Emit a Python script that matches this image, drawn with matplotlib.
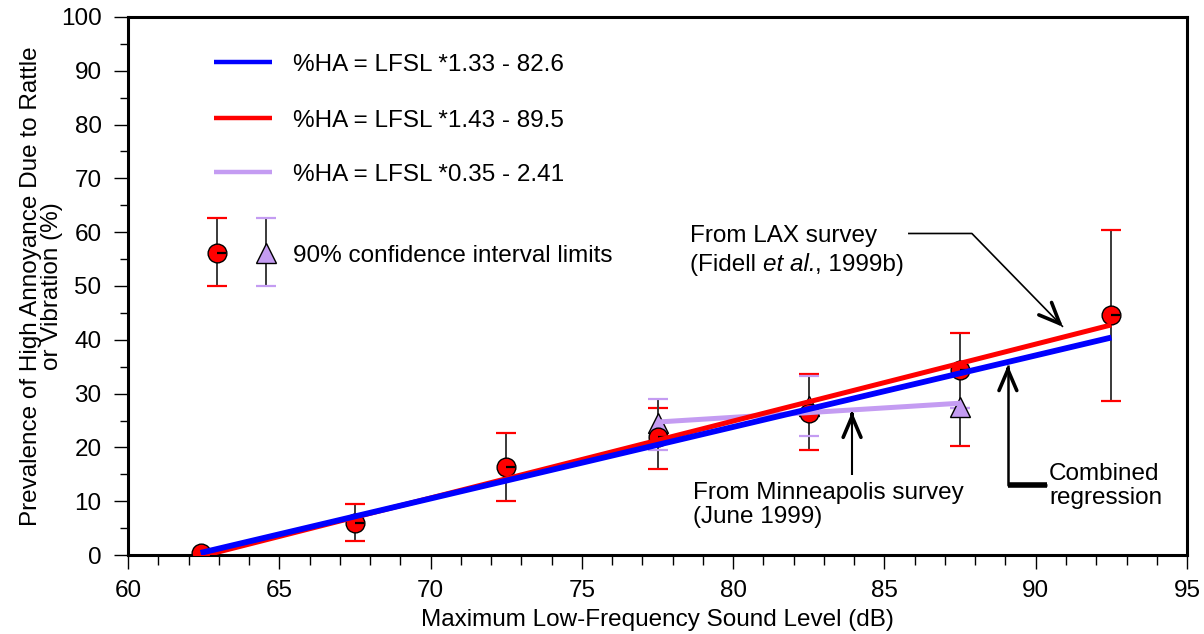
import matplotlib
matplotlib.use("Agg")
import matplotlib.pyplot as plt
import numpy as np
from matplotlib.path import Path
from matplotlib.ticker import MultipleLocator

plt.rcParams["font.family"] = ["Liberation Sans", "DejaVu Sans"]

# combined survey points (red circles) with 90% confidence limits
lfsl = [62.4, 67.5, 72.5, 77.5, 82.5, 87.5, 92.5]
ha = [0.3, 6.0, 16.4, 22.0, 26.4, 34.4, 44.7]
ha_hi = [np.nan, 9.5, 22.7, 27.3, 33.6, 41.2, 60.5]
ha_lo = [np.nan, 2.6, 10.0, 16.0, 19.5, 20.3, 28.6]

# Minneapolis survey points (triangles)
mn_lfsl = [77.5, 82.5, 87.5]
mn_ha = [24.5, 27.7, 27.5]
mn_hi = [29.0, 33.2, 27.4]
mn_lo = [19.5, 22.1, 27.4]

# regression fits: (slope, intercept, x range)
fits = {
    "blue": (1.33, -82.6, (62.4, 92.5)),
    "red": (1.43, -89.5, (62.4, 92.5)),
    "minn": (0.35, -2.41, (77.5, 87.5)),
}
fit_labels = ["%HA = LFSL *1.33 - 82.6", "%HA = LFSL *1.43 - 89.5",
              "%HA = LFSL *0.35 - 2.41"]

BLUE = "#0000ff"
RED = "#ff0000"
LAV = "#c49cf2"
BAR = "#3a3a3a"
FS = 17.5

# little tick from the centre of each circle to its right edge
tick_marker = Path([(0, 0), (1, 0)], [Path.MOVETO, Path.LINETO])

fig = plt.figure(figsize=(12.04, 6.34), dpi=100)
ax = fig.add_axes([0.1063, 0.1246, 0.8796, 0.8486])


def fit_line(key):
    m, b, (x0, x1) = fits[key]
    xs = np.array([x0, x1])
    return xs, m * xs + b


def ci(ax, x, lo, hi, cap_color):
    x, lo, hi = (np.asarray(v, float) for v in (x, lo, hi))
    ok = ~np.isnan(lo)
    ax.vlines(x[ok], lo[ok], hi[ok], color=BAR, lw=1.4, zorder=2)
    for v in (lo, hi):
        ax.plot(x[ok], v[ok], ls="none", marker="_", ms=15, mew=1.6,
                color=cap_color, zorder=2)


def arrow(ax, pts, lw=1.2, head_lw=2.6, tail_lw=None, scale=20):
    pts = np.asarray(pts, float)
    ax.plot(pts[:, 0], pts[:, 1], color="black", lw=lw,
            solid_capstyle="butt", zorder=6, clip_on=False)
    if tail_lw:
        ax.plot(pts[:2, 0], pts[:2, 1], color="black", lw=tail_lw,
                solid_capstyle="butt", zorder=6, clip_on=False)
    a, b = pts[-2], pts[-1]
    ax.annotate("", xy=b, xytext=b - (b - a) * 0.05,
                arrowprops=dict(arrowstyle="->,head_length=0.75,head_width=0.32",
                                lw=head_lw, color="black", shrinkA=0, shrinkB=0,
                                mutation_scale=scale),
                zorder=6)


# confidence intervals
ci(ax, lfsl, ha_lo, ha_hi, RED)
ci(ax, mn_lfsl, mn_lo, mn_hi, LAV)

# markers
ax.plot(mn_lfsl, mn_ha, ls="none", marker="^", ms=15, mfc=LAV, mec="black",
        mew=1.0, zorder=3)
ax.plot(lfsl, ha, ls="none", marker="o", ms=13.5, mfc=RED, mec="black",
        mew=1.0, zorder=3)
ax.plot(lfsl, ha, ls="none", marker=tick_marker, ms=13.5, mec="black",
        mew=1.6, zorder=3)

# regression lines
xs, ys = fit_line("minn")
ax.plot(xs, ys, color=LAV, lw=3.6, solid_capstyle="butt", zorder=4)
xs, ys = fit_line("red")
ax.plot(xs, ys, color=RED, lw=3.6, solid_capstyle="butt", zorder=5)
xs, ys = fit_line("blue")
ax.plot(xs, ys, color=BLUE, lw=4.2, solid_capstyle="butt", zorder=5)

# axes
ax.set_xlim(60, 95)
ax.set_ylim(0, 100)
ax.xaxis.set_major_locator(MultipleLocator(5))
ax.xaxis.set_minor_locator(MultipleLocator(1))
ax.yaxis.set_major_locator(MultipleLocator(10))
ax.yaxis.set_minor_locator(MultipleLocator(5))
for s in ax.spines.values():
    s.set_linewidth(2.2)
ax.tick_params(which="both", direction="out", top=False, right=False,
               width=1.0, labelsize=FS)
ax.tick_params(axis="x", which="major", length=10, pad=8)
ax.tick_params(axis="x", which="minor", length=7)
ax.tick_params(axis="y", which="major", length=10, pad=9)
ax.tick_params(axis="y", which="minor", length=6)

ax.set_xlabel("Maximum Low-Frequency Sound Level (dB)", fontsize=FS,
              va="center")
ax.xaxis.set_label_coords(0.5, -0.12)
ax.set_ylabel("Prevalence of High Annoyance Due to Rattle\nor Vibration (%)",
              fontsize=FS, linespacing=0.95, va="center")
ax.yaxis.set_label_coords(-0.0815, 0.5)

# legend drawn in axes coordinates
tr = ax.transAxes
for (y, c, lw), lab in zip([(0.9164, BLUE, 3.2), (0.8123, RED, 3.2),
                            (0.7119, LAV, 3.2)], fit_labels):
    ax.plot([0.0812, 0.136], [y, y], color=c, lw=lw, transform=tr,
            solid_capstyle="butt")
    ax.text(0.1558, y - 0.006, lab, transform=tr, fontsize=FS, va="center")

ax.plot([0.084, 0.084], [0.5, 0.6264], color=BAR, lw=1.4, transform=tr)
ax.plot([0.1303, 0.1303], [0.5, 0.6264], color=BAR, lw=1.4, transform=tr)
for y in (0.5, 0.6264):
    ax.plot([0.084], [y], marker="_", ms=15, mew=1.6, color=RED, transform=tr)
    ax.plot([0.1303], [y], marker="_", ms=15, mew=1.6, color=LAV, transform=tr)
ax.plot([0.084], [0.5613], marker="o", ms=13.5, mfc=RED, mec="black", mew=1.0,
        transform=tr)
ax.plot([0.084], [0.5613], marker=tick_marker, ms=13.5, mec="black", mew=1.6,
        transform=tr)
ax.plot([0.1303], [0.5613], marker="^", ms=15, mfc=LAV, mec="black", mew=1.0,
        transform=tr)
ax.text(0.1558, 0.5558, "90% confidence interval limits", transform=tr,
        fontsize=FS, va="center")

# annotations
ax.text(78.57, 59.3, "From LAX survey", fontsize=FS, va="center")
piece = ax.text(78.57, 53.9, "(Fidell ", fontsize=FS, va="center")
for txt, style in [("et al.", "italic"), (", 1999b)", "normal")]:
    piece = ax.annotate(txt, xy=(1, 0), xycoords=piece, va="bottom",
                        fontsize=FS, style=style)
arrow(ax, [(85.78, 59.76), (87.89, 59.76), (90.9, 42.4)], lw=1.2)

ax.text(78.67, 9.3, "From Minneapolis survey\n(June 1999)", fontsize=FS,
        va="center", linespacing=1.15)
arrow(ax, [(83.93, 14.9), (83.93, 26.6)], lw=1.5)

ax.text(90.44, 12.8, "Combined\nregression", fontsize=FS, va="center",
        linespacing=1.1)
arrow(ax, [(90.37, 13.0), (89.08, 13.0), (89.08, 35.3)], lw=1.8, tail_lw=4.0)

fig.savefig("out.png", dpi=100)
